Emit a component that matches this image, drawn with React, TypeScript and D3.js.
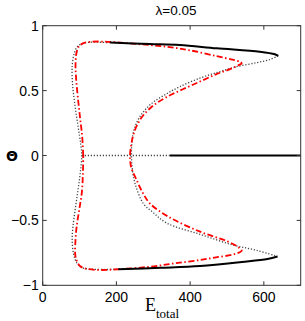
import React from "react";
import * as d3 from "d3";

// axis ticks
const xTicks = [0, 200, 400, 600];
const yTicks = [-1, -0.5, 0, 0.5, 1];
const yTickLabels = ["\u22121", "\u22120.5", "0", "0.5", "1"];

// solid (stable) branches, [E_total, Theta]
const blackUpper = [[183, 0.87], [291, 0.859], [372, 0.851], [472, 0.826], [589, 0.8], [630, 0.78], [639, 0.767]];
const blackLower = [[205, -0.877], [320, -0.865], [427, -0.851], [540, -0.82], [610, -0.797], [637, -0.778]];
const blackZero = [[345, 0], [700, 0]];

// dotted (unstable) branches
const grayOuter = [
  [183, 0.869], [150, 0.873], [125, 0.872], [105, 0.86], [93, 0.835], [85, 0.78], [80, 0.69],
  [81, 0.55], [86, 0.42], [93, 0.28], [100, 0.15], [104, 0.07], [106, 0],
  [104, -0.08], [100, -0.18], [94, -0.3], [88, -0.42], [82, -0.55], [80, -0.66], [84, -0.76],
  [93, -0.83], [108, -0.865], [140, -0.877], [205, -0.877],
];
const grayInner = [
  [639, 0.767], [617, 0.74], [580, 0.715], [526, 0.684], [480, 0.645], [430, 0.6], [372, 0.53],
  [336, 0.475], [295, 0.4], [264, 0.3], [248, 0.2], [242, 0.1], [241, 0],
  [243, -0.1], [250, -0.21], [273, -0.37], [300, -0.44], [336, -0.52], [430, -0.61],
  [517, -0.69], [580, -0.73], [637, -0.778],
];
const grayZero = [[106, 0], [345, 0]];

// dash-dot loop
const redLoop = [
  [110, 0], [107, 0.15], [101, 0.3], [96, 0.43], [91, 0.58], [89, 0.69], [91, 0.78], [97, 0.835],
  [108, 0.862], [128, 0.875], [160, 0.878], [200, 0.872], [260, 0.858], [336, 0.838], [400, 0.81],
  [472, 0.765], [515, 0.738], [535, 0.722], [540, 0.71], [530, 0.693], [508, 0.665], [470, 0.625],
  [427, 0.57], [380, 0.51], [336, 0.45], [300, 0.385], [273, 0.31], [257, 0.24], [246, 0.16],
  [240, 0.08], [237, 0], [240, -0.09], [255, -0.19], [272, -0.29], [291, -0.37], [340, -0.47],
  [427, -0.587], [500, -0.66], [530, -0.705], [540, -0.733], [520, -0.76], [470, -0.785],
  [427, -0.805], [360, -0.83], [291, -0.857], [210, -0.875], [155, -0.882], [118, -0.872],
  [101, -0.851], [91, -0.8], [88, -0.753], [89, -0.65], [92, -0.55], [99, -0.42], [106, -0.29],
  [109, -0.15], [110, 0],
];

const W = 305;
const H = 321;
const left = 42.7;
const right = 300.7;
const top = 25.7;
const bottom = 285.3;

const x = d3.scaleLinear().domain([0, 700]).range([left, right]);
const y = d3.scaleLinear().domain([-1, 1]).range([bottom, top]);

const line = d3
  .line<number[]>()
  .x((d) => x(d[0]))
  .y((d) => y(d[1]))
  .curve(d3.curveCatmullRom.alpha(0.5));

const straight = d3
  .line<number[]>()
  .x((d) => x(d[0]))
  .y((d) => y(d[1]));

const tickFont = "'Liberation Sans', Arial, sans-serif";
const dotted = { fill: "none", stroke: "#444", strokeWidth: 1.3, strokeDasharray: "1.2,1.8" };

export default function App() {
  const tl = 4;
  return (
    <svg
      width={W}
      height={H}
      style={{ position: "absolute", left: 0, top: 0, background: "#fff" }}
    >
      <rect x={0} y={0} width={W} height={H} fill="#fff" />
      <text x={176} y={15} textAnchor="middle" fontFamily={tickFont} fontSize={13.5}>
        λ=0.05
      </text>

      {/* curves */}
      <path d={straight(grayZero) || ""} {...dotted} />
      <path d={line(grayOuter) || ""} {...dotted} />
      <path d={line(grayInner) || ""} {...dotted} />
      <path d={line(redLoop) || ""} fill="none" stroke="#f00" strokeWidth={1.8} strokeDasharray="6,2.5,1.5,2.5" />
      <path d={line(blackUpper) || ""} fill="none" stroke="#000" strokeWidth={2} />
      <path d={line(blackLower) || ""} fill="none" stroke="#000" strokeWidth={2} />
      <path d={straight(blackZero) || ""} fill="none" stroke="#000" strokeWidth={2} />

      {/* frame */}
      <rect x={left} y={top} width={right - left} height={bottom - top} fill="none" stroke="#333" strokeWidth={1} />

      {xTicks.map((t) => (
        <g key={"x" + t}>
          <line x1={x(t)} x2={x(t)} y1={bottom} y2={bottom - tl} stroke="#333" />
          <line x1={x(t)} x2={x(t)} y1={top} y2={top + tl} stroke="#333" />
          <text x={x(t)} y={302} textAnchor="middle" fontFamily={tickFont} fontSize={14}>
            {t}
          </text>
        </g>
      ))}
      {yTicks.map((t, i) => (
        <g key={"y" + t}>
          <line x1={left} x2={left + tl} y1={y(t)} y2={y(t)} stroke="#333" />
          <line x1={right} x2={right - tl} y1={y(t)} y2={y(t)} stroke="#333" />
          <text x={left - 4} y={y(t) + 5} textAnchor="end" fontFamily={tickFont} fontSize={14}>
            {yTickLabels[i]}
          </text>
        </g>
      ))}

      {/* axis labels */}
      <text x={12} y={161} textAnchor="middle" fontFamily="'DejaVu Sans', sans-serif" fontWeight="bold" fontSize={14}>
        Θ
      </text>
      <text x={145} y={311} fontFamily="'Liberation Serif', 'Times New Roman', serif" fontSize={18}>
        E
        <tspan fontSize={13} dy={7}>
          total
        </tspan>
      </text>
    </svg>
  );
}
